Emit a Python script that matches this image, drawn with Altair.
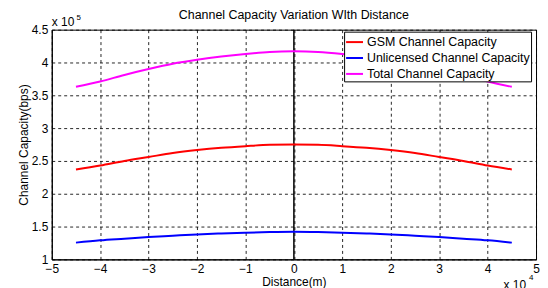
import altair as alt
import pandas as pd

# Data (distance in metres, capacity in bps)
distance_m = [-45000, -40000, -35000, -30000, -25000, -20000, -15000, -10000, -5000, 0,
              5000, 10000, 15000, 20000, 25000, 30000, 35000, 40000, 45000]
gsm_capacity = [237000, 243000, 250000, 256000, 262000, 266500, 270000, 272500, 274500, 275000,
                274500, 272500, 270000, 266500, 262000, 256000, 250000, 243000, 237000]
unlicensed_capacity = [125500, 129000, 131500, 134000, 136000, 138000, 139500, 140700, 141600, 142000,
                       141600, 140700, 139500, 138000, 136000, 134000, 131500, 129000, 125500]
total_capacity = [363000, 371000, 381000, 390000, 398000, 404000, 409000, 413000, 416000, 417000,
                  416000, 413000, 409000, 404000, 398000, 390000, 381000, 371000, 363000]

series_names = ["GSM Channel Capacity", "Unlicensed Channel Capacity", "Total Channel Capacity"]
series_colors = ["#ff0000", "#0000ff", "#ff00ff"]
x_ticks = [-50000, -40000, -30000, -20000, -10000, 0, 10000, 20000, 30000, 40000, 50000]
y_ticks = [100000, 150000, 200000, 250000, 300000, 350000, 400000, 450000]

rows = []
for name, vals in zip(series_names, [gsm_capacity, unlicensed_capacity, total_capacity]):
    for d, v in zip(distance_m, vals):
        rows.append({"distance": d, "capacity": v, "series": name})
df = pd.DataFrame(rows)

FONT = "Liberation Sans"

x_enc = alt.X("distance:Q",
              scale=alt.Scale(domain=[-50000, 50000], nice=False),
              axis=alt.Axis(values=x_ticks, labelExpr="format(datum.value/10000, '~g')",
                            title="Distance(m)", grid=True, ticks=False, labelFlush=False,
                            labelPadding=4, titlePadding=2))
y_enc = alt.Y("capacity:Q",
              scale=alt.Scale(domain=[100000, 450000], nice=False, zero=False),
              axis=alt.Axis(values=y_ticks, labelExpr="format(datum.value/100000, '~g')",
                            title="Channel Capacity(bps)", grid=True, ticks=False, labelFlush=False,
                            labelPadding=4, titlePadding=1))

lines = alt.Chart(df).mark_line(strokeWidth=2, interpolate="monotone").encode(
    x=x_enc,
    y=y_enc,
    color=alt.Color("series:N",
                    scale=alt.Scale(domain=series_names, range=series_colors),
                    legend=alt.Legend(title=None, orient="none", legendX=294, legendY=2,
                                      symbolType="stroke", symbolSize=289, symbolStrokeWidth=2,
                                      labelFontSize=12.5, labelFont=FONT, labelColor="black",
                                      strokeColor="black", fillColor="white",
                                      padding=1, rowPadding=-11, labelOffset=3,
                                      labelLimit=300)),
    detail="series:N",
)

zero_df = pd.DataFrame({"distance": [0]})
zero_rule = alt.Chart(zero_df).mark_rule(color="black", strokeWidth=1.5).encode(x="distance:Q")

def label(txt, x, y, size, align="left"):
    return alt.Chart(pd.DataFrame({"t": [txt]})).mark_text(
        align=align, baseline="alphabetic", fontSize=size, font=FONT, color="black"
    ).encode(x=alt.value(x), y=alt.value(y), text="t:N")

exp_y_main = label("x 10", 0, -4, 12)
exp_y_sup = label("5", 25, -10, 8)
exp_x_main = label("x 10", 477, 261, 12, align="right")
exp_x_sup = label("4", 480, 252, 8)

chart = alt.layer(zero_rule, lines, exp_y_main, exp_y_sup, exp_x_main, exp_x_sup).properties(
    width=487, height=231,
    title=alt.TitleParams("Channel Capacity Variation WIth Distance", fontSize=12.5,
                          font=FONT, fontWeight="normal", color="black", offset=5, dy=13),
    autosize=alt.AutoSizeParams(type="none"),
    padding={"left": 44, "top": 21, "right": 4, "bottom": 28},
).configure_view(stroke="black", strokeWidth=1).configure_axis(
    domainColor="black", domainWidth=1,
    gridColor="black", gridDash=[3, 3], gridOpacity=0.85, gridWidth=1,
    labelFont=FONT, labelFontSize=12, labelColor="black",
    titleFont=FONT, titleFontSize=12, titleColor="black", titleFontWeight="normal",
)

chart.save("out.html", embed_options={"renderer": "svg", "actions": False})
